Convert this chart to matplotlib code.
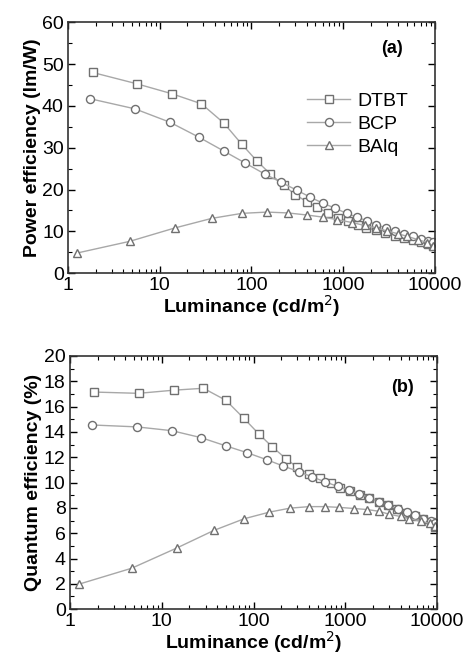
import matplotlib
matplotlib.use("Agg")
import matplotlib.pyplot as plt
from matplotlib.ticker import FixedLocator, MultipleLocator, NullFormatter

plt.rcParams["font.family"] = ["Liberation Sans", "DejaVu Sans"]

# Luminance (cd/m2) of each measured point, per device
LUM_DTBT = [1.85, 5.6, 13.6, 28.5, 50, 78, 114, 161, 225, 300, 400, 525, 690,
            880, 1120, 1440, 1800, 2300, 2900, 3650, 4600, 5750, 7100, 8500, 9600]
LUM_BCP = [1.75, 5.35, 12.9, 26.8, 50, 86, 140, 212, 315, 435, 605, 825, 1090,
           1420, 1830, 2300, 2930, 3720, 4650, 5750, 7050, 8500, 9600]
LUM_BALQ = [1.25, 4.7, 14.6, 37, 79, 148, 250, 405, 600, 860, 1250, 1720, 2300,
            3000, 4000, 5000, 6600, 8300, 9500]

# (a) power efficiency, lm/W
PE_DTBT = [48.0, 45.3, 42.9, 40.5, 35.9, 30.9, 26.9, 23.7, 21.0, 18.8, 17.1, 15.7,
           14.4, 13.3, 12.4, 11.6, 10.9, 10.2, 9.6, 9.0, 8.4, 7.9, 7.4, 7.0, 6.6]
PE_BCP = [41.7, 39.3, 36.1, 32.5, 29.2, 26.3, 23.7, 21.7, 19.8, 18.2, 16.7, 15.5,
          14.3, 13.4, 12.5, 11.6, 10.8, 10.0, 9.4, 8.8, 8.2, 7.8, 7.4]
PE_BALQ = [4.8, 7.6, 10.8, 13.1, 14.3, 14.6, 14.4, 13.9, 13.4, 12.8, 12.1, 11.4,
           10.8, 10.1, 9.4, 8.8, 8.0, 7.3, 6.6]

# (b) external quantum efficiency, %
QE_DTBT = [17.15, 17.05, 17.3, 17.45, 16.5, 15.1, 13.85, 12.8, 11.9, 11.2, 10.7,
           10.35, 9.95, 9.6, 9.3, 9.05, 8.8, 8.5, 8.2, 7.9, 7.6, 7.35, 7.1, 6.85, 6.5]
QE_BCP = [14.55, 14.4, 14.1, 13.55, 12.9, 12.35, 11.8, 11.3, 10.85, 10.45, 10.05,
          9.7, 9.4, 9.1, 8.8, 8.5, 8.2, 7.9, 7.65, 7.4, 7.15, 6.95, 6.8]
QE_BALQ = [1.97, 3.23, 4.83, 6.22, 7.14, 7.66, 7.98, 8.1, 8.1, 8.04, 7.95, 7.87,
           7.74, 7.5, 7.32, 7.15, 6.95, 6.77, 6.55]

DEVICES = ["DTBT", "BCP", "BAlq"]
MARKERS = ["s", "o", "^"]
X_TICKS = [1, 10, 100, 1000, 10000]

LINE_C = "#a8a8a8"
MARK_C = "#707070"
FS = 14


def style_axis(ax, ymax, ymajor, yminor, ylabel):
    ax.set_xscale("log")
    ax.set_xlim(1, 10000)
    ax.set_ylim(0, ymax)
    ax.xaxis.set_major_locator(FixedLocator(X_TICKS))
    ax.set_xticklabels([str(t) for t in X_TICKS])
    ax.xaxis.set_minor_formatter(NullFormatter())
    ax.yaxis.set_major_locator(MultipleLocator(ymajor))
    ax.yaxis.set_minor_locator(MultipleLocator(yminor))
    ax.tick_params(which="both", direction="in", top=True, right=True,
                   labelsize=FS, pad=3)
    ax.tick_params(which="major", length=5, width=1.0)
    ax.tick_params(which="minor", length=3, width=0.8)
    for s in ax.spines.values():
        s.set_linewidth(1.2)
        s.set_color("#333333")
    ax.set_xlabel("Luminance (cd/m$^2$)", fontsize=FS, fontweight="bold",
                  labelpad=-1)
    ax.set_ylabel(ylabel, fontsize=FS, fontweight="bold", labelpad=1)


def draw(ax, lums, ys):
    for lum, y, m, name in zip(lums, ys, MARKERS, DEVICES):
        ax.plot(lum, y, color=LINE_C, lw=1.0, marker=m, ms=5.8,
                mfc="white", mec=MARK_C, mew=1.0, label=name)


fig = plt.figure(figsize=(4.66, 6.55), dpi=100)
ax1 = fig.add_axes([0.146, 0.583, 0.787, 0.383])
ax2 = fig.add_axes([0.150, 0.0700, 0.788, 0.3865])

lums = [LUM_DTBT, LUM_BCP, LUM_BALQ]
draw(ax1, lums, [PE_DTBT, PE_BCP, PE_BALQ])
draw(ax2, lums, [QE_DTBT, QE_BCP, QE_BALQ])

style_axis(ax1, 60, 10, 5, "Power efficiency (lm/W)")
style_axis(ax2, 20, 2, 1, "Quantum efficiency (%)")

ax1.legend(loc="center left", bbox_to_anchor=(0.605, 0.594), frameon=False,
           fontsize=FS, handlelength=2.2, handletextpad=0.35, labelspacing=0.28)
ax1.text(0.883, 0.896, "(a)", transform=ax1.transAxes, ha="center", va="center",
         fontsize=13, fontweight="bold")
ax2.text(0.907, 0.874, "(b)", transform=ax2.transAxes, ha="center", va="center",
         fontsize=13, fontweight="bold")

fig.savefig("out.png", dpi=100)
